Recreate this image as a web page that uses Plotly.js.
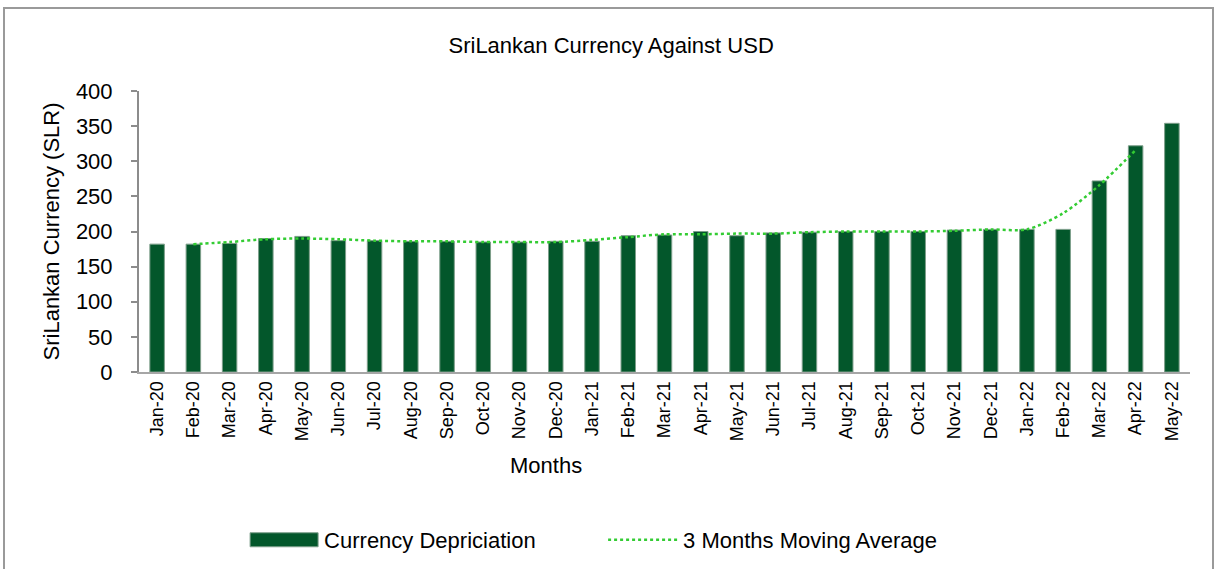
<!DOCTYPE html>
<html>
<head>
<meta charset="utf-8">
<script src="https://cdn.plot.ly/plotly-3.0.1.min.js"></script>
<style>
  html, body { margin: 0; padding: 0; background: #ffffff; }
  #chart { width: 1215px; height: 569px; }
  #frame { position: absolute; left: 3px; top: 7px; width: 1207px; height: 600px;
           border: 2px solid #9a9a9a; pointer-events: none; }
</style>
</head>
<body>
<div id="chart"></div>
<div id="frame"></div>
<script>
const months = ["Jan-20","Feb-20","Mar-20","Apr-20","May-20","Jun-20","Jul-20","Aug-20","Sep-20","Oct-20","Nov-20","Dec-20",
                "Jan-21","Feb-21","Mar-21","Apr-21","May-21","Jun-21","Jul-21","Aug-21","Sep-21","Oct-21","Nov-21","Dec-21",
                "Jan-22","Feb-22","Mar-22","Apr-22","May-22"];
const currencyValues = [182,182,183,190,193,187,187,186,186,185,185,186,
                        186,194,195,200,194,198,199,200,200,200,202,203,
                        203,203,272,322,354];
const movingAverage = [null,182,185,189,190,189,187,186,186,185,185,185,
                       188,192,196,196,197,197,199,200,200,200,201,203,
                       203,226,266,316,null];
const yTicks = [0,50,100,150,200,250,300,350,400];

const FONT = '"Liberation Sans", Arial, sans-serif';

const traces = [
  {
    type: 'bar', name: 'Currency Depriciation', x: months, y: currencyValues,
    marker: { color: '#03572B', line: { color: '#7d9e8a', width: 1 } },
    hoverinfo: 'x+y'
  },
  {
    type: 'scatter', mode: 'lines', name: '3 Months Moving Average', x: months, y: movingAverage,
    line: { color: '#33cc33', width: 2.5, dash: 'dot', shape: 'spline', smoothing: 0.8 },
    connectgaps: false, hoverinfo: 'x+y'
  }
];

const layout = {
  width: 1215, height: 569,
  paper_bgcolor: '#ffffff', plot_bgcolor: '#ffffff',
  font: { family: FONT, color: '#000000' },
  margin: { l: 139, r: 25, t: 91, b: 197, pad: 0 },
  bargap: 0.6,
  title: { text: 'SriLankan Currency Against USD', font: { size: 22, family: FONT, color: '#000' },
           x: 0.503, xanchor: 'center', y: 0.921, yanchor: 'middle' },
  xaxis: {
    type: 'category', categoryarray: months,
    tickangle: -90, tickfont: { size: 18, family: FONT },
    showline: true, linecolor: '#a6a6a6', linewidth: 2,
    ticks: '', showgrid: false, zeroline: false, automargin: false
  },
  yaxis: {
    range: [0, 400], tickvals: yTicks, ticktext: yTicks.map(String),
    tickfont: { size: 22, family: FONT },
    showline: true, linecolor: '#8c8c8c', linewidth: 2,
    ticks: 'outside', ticklen: 6, tickcolor: '#8c8c8c', tickwidth: 2,
    ticklabelstandoff: 14,
    showgrid: false, zeroline: false, automargin: false,
    title: { text: 'SriLankan Currency (SLR)', font: { size: 22, family: FONT }, standoff: 10 }
  },
  annotations: [
    { text: 'Months', xref: 'paper', yref: 'paper', x: 0.387, y: -0.333, xanchor: 'center', yanchor: 'middle',
      showarrow: false, font: { size: 22, family: FONT, color: '#000' } }
  ],
  showlegend: true,
  legend: {
    orientation: 'h', x: 0.1, y: 0.051, xanchor: 'left', yanchor: 'middle',
    xref: 'paper', yref: 'container',
    font: { size: 22, family: FONT, color: '#000' }, itemwidth: 70,
    entrywidth: 274, entrywidthmode: 'pixels',
    bgcolor: 'rgba(0,0,0,0)', traceorder: 'normal'
  }
};

const gd = document.getElementById('chart');
Plotly.newPlot(gd, traces, layout, { displayModeBar: false, staticPlot: true }).then(function () {
  // widen legend swatches to match the reference
  const barPts = gd.querySelectorAll('.legend .legendpoints path');
  barPts.forEach(function (p) {
    const d = p.getAttribute('d') || '';
    if (d.indexOf('H') >= 0 && d.indexOf('V') >= 0) {
      p.setAttribute('d', 'M34,7H-34V-7H34Z');
    }
  });
});
</script>
</body>
</html>
